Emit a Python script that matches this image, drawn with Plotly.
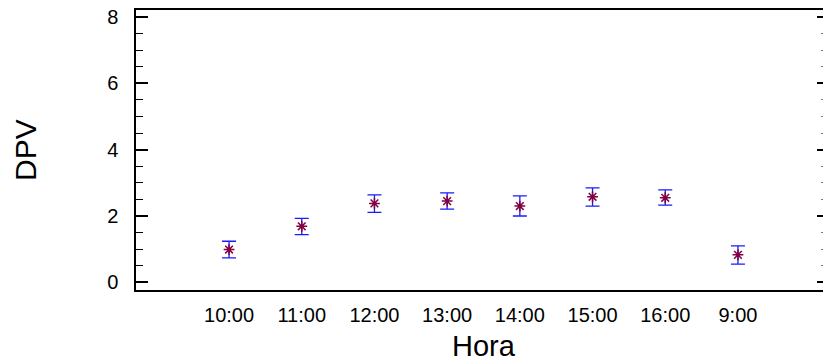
import plotly.graph_objects as go

horas = ["10:00", "11:00", "12:00", "13:00", "14:00", "15:00", "16:00", "9:00"]
dpv_media = [0.99, 1.69, 2.38, 2.45, 2.30, 2.58, 2.55, 0.83]
err_sup = [0.25, 0.24, 0.26, 0.25, 0.31, 0.27, 0.24, 0.27]
err_inf = [0.25, 0.25, 0.27, 0.24, 0.30, 0.28, 0.22, 0.28]
y_ticks = [0, 2, 4, 6, 8]

FONT = "Liberation Sans, Arial, sans-serif"

fig = go.Figure()
fig.add_trace(go.Scatter(
    x=list(range(len(horas))), y=dpv_media, mode="markers",
    marker=dict(symbol="asterisk", size=9, color="#800040",
                line=dict(color="#800040", width=1.5)),
    error_y=dict(type="data", symmetric=False, array=err_sup, arrayminus=err_inf,
                 color="#1a1aff", thickness=1.3, width=7),
    showlegend=False,
))
# invisible helper trace for the top frame line and the right-hand ticks
fig.add_trace(go.Scatter(x=[None], y=[None], xaxis="x2", yaxis="y2", showlegend=False, hoverinfo="skip"))

xr = [-1.28, 8.17]
yr = [-0.23, 8.21]
fig.update_layout(
    width=823, height=364,
    margin=dict(l=136, r=0, t=10, b=74),
    plot_bgcolor="white", paper_bgcolor="white",
    font=dict(family=FONT, color="black"),
    xaxis=dict(
        range=xr, tickmode="array",
        tickvals=list(range(len(horas))), ticktext=horas,
        showline=True, linecolor="black", linewidth=2,
        showgrid=False, zeroline=False, ticks="",
        tickfont=dict(size=20, family=FONT), ticklabelstandoff=6,
    ),
    xaxis2=dict(
        range=xr, overlaying="x", side="top", showline=True, linecolor="black", linewidth=2,
        showgrid=False, zeroline=False, ticks="", showticklabels=False,
    ),
    yaxis=dict(
        range=yr, tickvals=y_ticks,
        showline=True, linecolor="black", linewidth=1.5,
        showgrid=False, zeroline=False,
        ticks="inside", ticklen=12, tickwidth=1.5, tickcolor="black",
        minor=dict(dtick=0.5, ticks="inside", ticklen=7, tickwidth=1, tickcolor="black"),
        tickfont=dict(size=20, family=FONT), ticklabelstandoff=12,
    ),
    yaxis2=dict(
        range=yr, tickvals=y_ticks, overlaying="y", side="right", anchor="x2",
        showline=False, showgrid=False, zeroline=False, showticklabels=False,
        ticks="inside", ticklen=6, tickwidth=2, tickcolor="black",
        minor=dict(dtick=0.5, ticks="inside", ticklen=2, tickwidth=1, tickcolor="#777777"),
    ),
    annotations=[
        dict(text="Hora", xref="paper", yref="paper", x=(484 - 136) / 687, y=-(346 - 290) / 280,
             xanchor="center", yanchor="middle", showarrow=False, font=dict(size=29, family=FONT)),
        dict(text="DPV", xref="paper", yref="paper", x=-(136 - 25) / 687, y=0.5,
             xanchor="center", yanchor="middle", textangle=-90, showarrow=False,
             font=dict(size=30, family=FONT)),
    ],
)
fig.write_html("out.html")
